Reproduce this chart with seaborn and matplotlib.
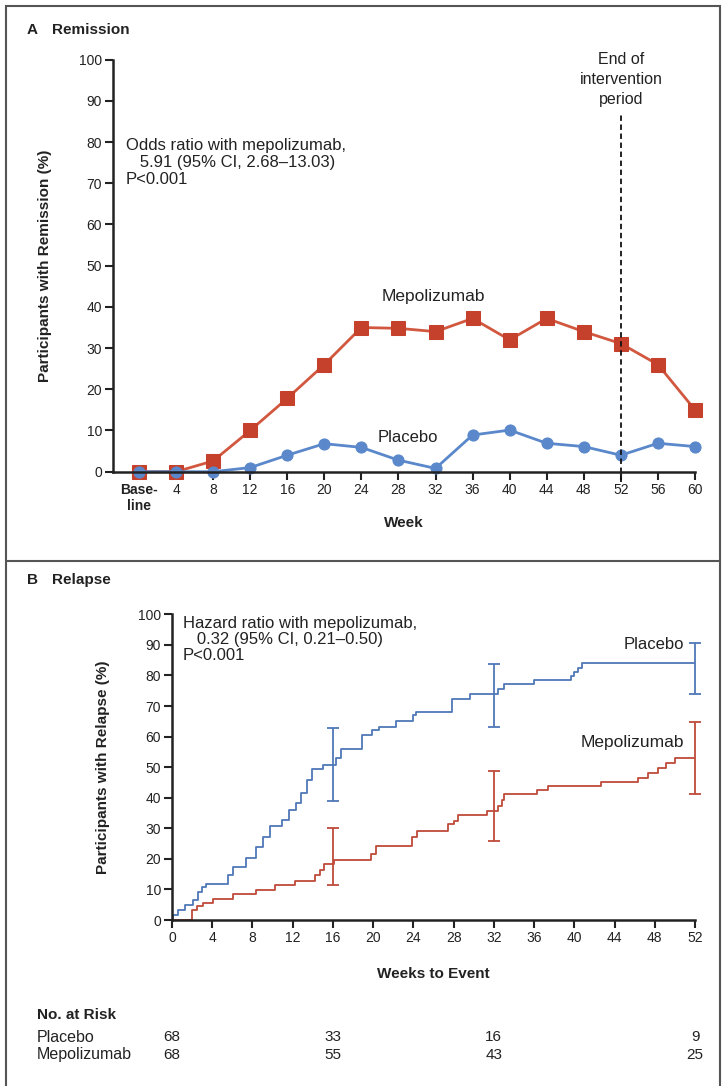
import numpy as np
import matplotlib
matplotlib.use("Agg")
import matplotlib.pyplot as plt
import seaborn as sns
from matplotlib import font_manager
from matplotlib.patches import Rectangle
from matplotlib.lines import Line2D

# ==========================================
# Data
# ==========================================
# Panel A - remission by visit
weeks = [0, 4, 8, 12, 16, 20, 24, 28, 32, 36, 40, 44, 48, 52, 56, 60]
week_labels = ["Base-\nline", "4", "8", "12", "16", "20", "24", "28", "32",
               "36", "40", "44", "48", "52", "56", "60"]
remission_mepo = [0, 0, 2.6, 10, 17.8, 26, 35, 34.8, 34, 37.2, 32, 37.2, 34, 31.1, 26, 15]
remission_placebo = [0, 0, 0, 1, 4, 6.8, 5.9, 2.8, 0.8, 8.9, 10.1, 6.9, 6.1, 4, 6.9, 6.1]

# Panel B - Kaplan-Meier relapse curves (week, cumulative %)
km_placebo_t = [0, 0.1, 0.6, 1.3, 2.1, 2.6, 3.0, 3.4, 5.6, 6.1, 7.4, 8.4, 9.0, 9.7,
                10.9, 11.6, 12.3, 12.8, 13.4, 13.9, 15.0, 16.3, 16.8, 18.9, 19.9,
                20.6, 22.3, 24.0, 24.3, 27.8, 29.6, 32.4, 33.0, 36.0, 39.7, 40.0,
                40.4, 40.8, 52]
km_placebo_p = [0, 1.6, 3.3, 4.9, 6.5, 9.3, 10.9, 11.8, 14.7, 17.4, 20.2, 24.0, 27.2,
                30.7, 32.7, 36.0, 38.3, 41.5, 45.8, 49.4, 50.7, 53.0, 55.8, 60.4, 62.0,
                63.1, 65.0, 66.9, 68.0, 72.3, 73.9, 75.5, 77.1, 78.4, 79.8, 81.1,
                82.5, 84.2, 84.2]
km_mepo_t = [0, 1.95, 2.5, 3.1, 4.1, 6.1, 8.4, 10.2, 12.2, 14.2, 14.7, 15.1, 16.1,
             19.8, 20.3, 23.9, 24.4, 27.4, 28.0, 28.4, 31.3, 32.4, 32.8, 33.0, 36.3,
             37.4, 42.7, 46.3, 47.3, 48.3, 49.1, 50.0, 52]
km_mepo_p = [0, 3.2, 4.5, 5.4, 6.8, 8.4, 9.9, 11.3, 12.9, 14.6, 16.2, 18.3, 19.6,
             21.6, 24.3, 27.0, 29.1, 31.3, 32.5, 34.2, 35.8, 37.2, 39.4, 41.2, 42.6,
             43.7, 45.0, 46.4, 48.0, 49.6, 51.2, 52.9, 52.9]

# 95% CI bars at selected weeks
ci_weeks = [16, 32, 52]
ci_placebo_lo = [39, 63.2, 74]
ci_placebo_hi = [62.7, 83.8, 90.6]
ci_mepo_lo = [11.4, 25.9, 41.2]
ci_mepo_hi = [30.2, 48.6, 64.7]

# No. at risk
risk_weeks = [0, 16, 32, 52]
risk_placebo = [68, 33, 16, 9]
risk_mepo = [68, 55, 43, 25]

# ==========================================
# Style
# ==========================================
sns.set_theme(style="ticks")
names = {f.name for f in font_manager.fontManager.ttflist}
main_font = "Liberation Sans Narrow" if "Liberation Sans Narrow" in names else "Liberation Sans"
plt.rcParams["font.family"] = [main_font, "DejaVu Sans"]
plt.rcParams["axes.linewidth"] = 1.8
plt.rcParams["axes.edgecolor"] = "#222222"

RED = "#c6412c"
RED_LINE = "#d2573f"
BLUE = "#5a88cb"
KM_BLUE = "#4f78b8"
KM_RED = "#bf4a3a"
TXT = "#222222"
FS = 10     # tick labels
FT = 12     # annotations / labels

fig = plt.figure(figsize=(7.26, 10.86), dpi=100)

# outer frame and separator
fig.patches.append(Rectangle((6 / 726, -0.01), 714 / 726, 1.0 - 6 / 1086 + 0.01,
                             transform=fig.transFigure, fill=False,
                             edgecolor="#555555", linewidth=1.5))
fig.add_artist(Line2D([6 / 726, 720 / 726], [1 - 561 / 1086] * 2,
                      transform=fig.transFigure, color="#555555", linewidth=1.5))

# ==========================================
# Panel A
# ==========================================
axA = fig.add_axes([113 / 726, 1 - 471.7 / 1086, 582 / 726, 412 / 1086])
sns.lineplot(x=weeks, y=remission_mepo, ax=axA, color=RED_LINE, linewidth=2,
             marker="s", markersize=9.5, markerfacecolor=RED, markeredgecolor=RED)
sns.lineplot(x=weeks, y=remission_placebo, ax=axA, color=BLUE, linewidth=2,
             marker="o", markersize=8, markerfacecolor=BLUE, markeredgecolor=BLUE)
for ln in axA.lines:
    ln.set_clip_on(False)

axA.set_xlim(-2.8, 60)
axA.set_ylim(0, 100)
axA.set_xticks(weeks)
axA.set_xticklabels(week_labels)
axA.get_xticklabels()[0].set_fontweight("bold")
axA.set_yticks(range(0, 101, 10))
axA.tick_params(axis="both", direction="out", length=6, width=1.5,
                labelsize=FS, colors=TXT, pad=2)
sns.despine(ax=axA)
axA.set_xlabel("Week", fontsize=FS + 1, fontweight="bold", color=TXT, labelpad=2)
axA.set_ylabel("Participants with Remission (%)", fontsize=FS + 1, fontweight="bold",
               color=TXT, labelpad=19)

axA.axvline(52, ymin=-0.025, ymax=0.865, color="#111111", linestyle=(0, (3, 2)),
            linewidth=1.3, clip_on=False)
axA.text(52, 88.5, "End of\nintervention\nperiod", ha="center", va="bottom",
         fontsize=FT - 0.5, color=TXT, linespacing=1.4)
axA.text(-1.4, 75, "Odds ratio with mepolizumab,\n   5.91 (95% CI, 2.68\u201313.03)\nP<0.001",
         ha="left", va="center", fontsize=FT, color=TXT, linespacing=1.15)
axA.text(31.8, 42.5, "Mepolizumab", ha="center", va="center", fontsize=FT + 0.5, color=TXT)
axA.text(29, 8.4, "Placebo", ha="center", va="center", fontsize=FT, color=TXT)

fig.text(27 / 726, 1 - 30 / 1086, "A", fontsize=FS + 1, fontweight="bold",
         color=TXT, va="center")
fig.text(52 / 726, 1 - 30 / 1086, "Remission", fontsize=FS + 1, fontweight="bold",
         color=TXT, va="center")

# ==========================================
# Panel B
# ==========================================
axB = fig.add_axes([172 / 726, 1 - 920 / 1086, 523 / 726, 305.7 / 1086])
sns.lineplot(x=km_placebo_t, y=km_placebo_p, ax=axB, color=KM_BLUE, linewidth=1.3,
             drawstyle="steps-post")
sns.lineplot(x=km_mepo_t, y=km_mepo_p, ax=axB, color=KM_RED, linewidth=1.3,
             drawstyle="steps-post")

for lo, hi, col in [(ci_placebo_lo, ci_placebo_hi, KM_BLUE), (ci_mepo_lo, ci_mepo_hi, KM_RED)]:
    lo = np.array(lo)
    hi = np.array(hi)
    axB.errorbar(ci_weeks, lo, yerr=[np.zeros_like(lo), hi - lo], fmt="none",
                 ecolor=col, elinewidth=1.3, capsize=4, capthick=1.3, clip_on=False)

axB.set_xlim(0, 52)
axB.set_ylim(0, 100)
axB.set_xticks(range(0, 53, 4))
axB.set_yticks(range(0, 101, 10))
axB.tick_params(axis="both", direction="out", length=6, width=1.5,
                labelsize=FS, colors=TXT, pad=2)
sns.despine(ax=axB)
axB.set_xlabel("Weeks to Event", fontsize=FS + 1, fontweight="bold", color=TXT, labelpad=16)
axB.set_ylabel("Participants with Relapse (%)", fontsize=FS + 1, fontweight="bold",
               color=TXT, labelpad=20)

axB.text(1.1, 99.5, "Hazard ratio with mepolizumab,\n   0.32 (95% CI, 0.21\u20130.50)\nP<0.001",
         ha="left", va="top", fontsize=FT, color=TXT, linespacing=1.1)
axB.text(50.9, 90, "Placebo", ha="right", va="center", fontsize=FT, color=TXT)
axB.text(50.9, 58, "Mepolizumab", ha="right", va="center", fontsize=FT + 0.5, color=TXT)

fig.text(27 / 726, 1 - 580 / 1086, "B", fontsize=FS + 1, fontweight="bold",
         color=TXT, va="center")
fig.text(52 / 726, 1 - 580 / 1086, "Relapse", fontsize=FS + 1, fontweight="bold",
         color=TXT, va="center")

# No. at risk table
fig.text(37 / 726, 1 - 1015 / 1086, "No. at Risk", fontsize=FT - 1, fontweight="bold",
         color=TXT, va="center")
row_y = [1 - 1037 / 1086, 1 - 1055 / 1086]
for label, counts, ry in [("Placebo", risk_placebo, row_y[0]),
                          ("Mepolizumab", risk_mepo, row_y[1])]:
    fig.text(37 / 726, ry, label, fontsize=FT - 0.5, color=TXT, va="center")
    for wk, n in zip(risk_weeks, counts):
        fx = (172 + wk * 523 / 52) / 726
        fig.text(fx, ry, str(n), fontsize=FT - 1, color=TXT, ha="center", va="center")

fig.savefig("out.png", dpi=100, facecolor="white")
